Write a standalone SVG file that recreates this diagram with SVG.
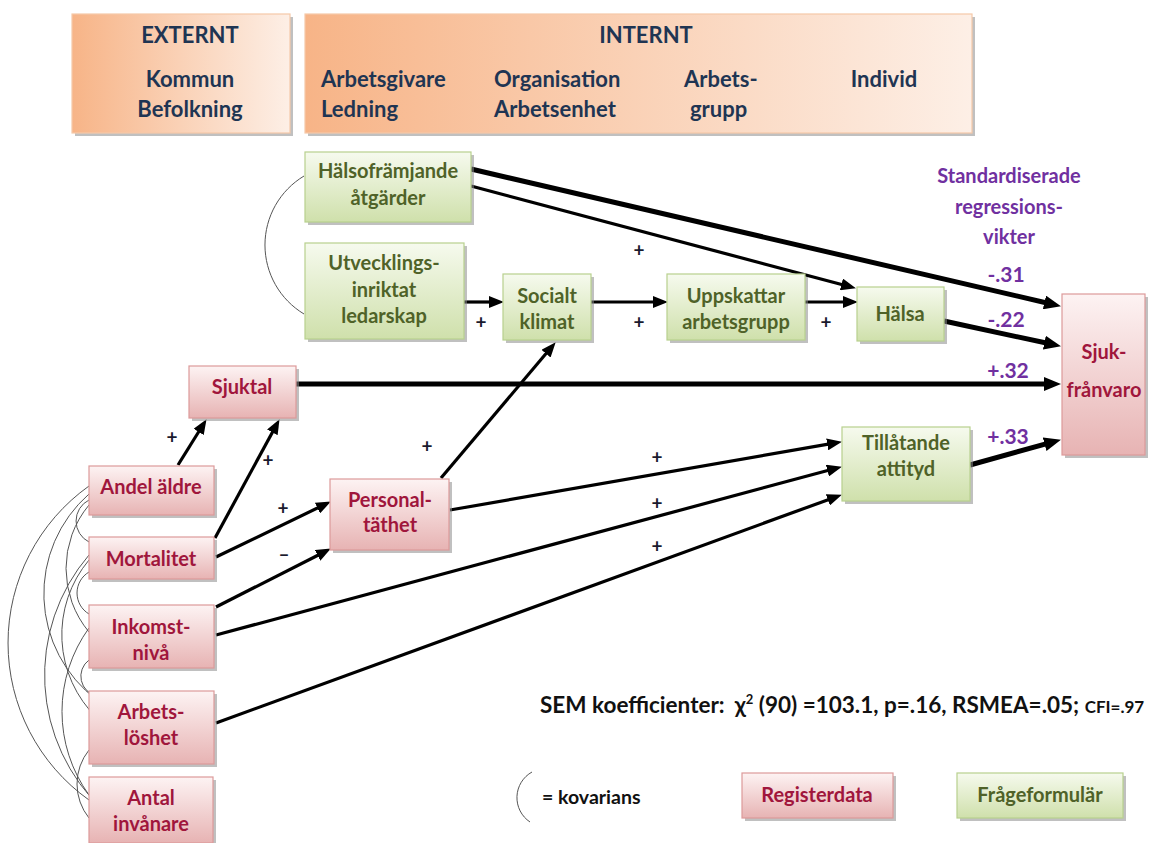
<svg xmlns="http://www.w3.org/2000/svg" width="1161" height="843" viewBox="0 0 1161 843">
<defs>
<linearGradient id="gHead" x1="0" y1="0" x2="1" y2="0"><stop offset="0" stop-color="#f7b487"/><stop offset="1" stop-color="#fdefe6"/></linearGradient>
<linearGradient id="gGreen" x1="0" y1="0" x2="0" y2="1"><stop offset="0" stop-color="#f6faee"/><stop offset="1" stop-color="#cfe0ab"/></linearGradient>
<linearGradient id="gRed" x1="0" y1="0" x2="0" y2="1"><stop offset="0" stop-color="#fdf3f3"/><stop offset="1" stop-color="#e7b3b3"/></linearGradient>
<marker id="ahT" markerUnits="userSpaceOnUse" markerWidth="17" markerHeight="14" refX="8" refY="7" orient="auto"><path d="M0,0 L17,7 L0,14 z" fill="#000"/></marker>
<marker id="ahM" markerUnits="userSpaceOnUse" markerWidth="15" markerHeight="12" refX="7" refY="6" orient="auto"><path d="M0,0 L15,6 L0,12 z" fill="#000"/></marker>
</defs>
<style>
text{font-family:Lato,"Liberation Sans",sans-serif;font-weight:bold;text-anchor:middle}
.hd{font-size:22px;fill:#1f3553}
.hdl{text-anchor:start}
.gt{font-size:20px;fill:#4f6228}
.rt{font-size:20px;fill:#a0163c}
.pu{font-size:20px;fill:#7030a0}
.pn{font-size:21px;fill:#7030a0}
.pl{font-size:19px;fill:#1a1a2e}
.sh{fill:#8c8c8c;opacity:0.55}
.gn{fill:url(#gGreen);stroke:#b8d08e;stroke-width:1.2}
.rn{fill:url(#gRed);stroke:#dc9a9a;stroke-width:1.2}
.hb{fill:url(#gHead);stroke:#f6c9a8;stroke-width:1.2}
.cov{fill:none;stroke:#555;stroke-width:1}
.a5{fill:none;stroke:#000;stroke-width:5;marker-end:url(#ahT)}
.a3{fill:none;stroke:#000;stroke-width:3.2;marker-end:url(#ahM)}
</style>

<g id="header-externt">
<rect class="sh" x="75" y="17" width="218" height="119"/>
<rect class="hb" x="72" y="14" width="218" height="119"/>
<text class="hd" x="190" y="43">EXTERNT</text>
<text class="hd" x="190" y="87">Kommun</text>
<text class="hd" x="190" y="117">Befolkning</text>
</g>
<g id="header-internt">
<rect class="sh" x="308" y="17" width="667" height="119"/>
<rect class="hb" x="305" y="14" width="667" height="119"/>
<text class="hd" x="646" y="43">INTERNT</text>
<text class="hd hdl" x="321" y="87">Arbetsgivare</text>
<text class="hd hdl" x="321" y="117">Ledning</text>
<text class="hd hdl" x="494" y="87">Organisation</text>
<text class="hd hdl" x="494" y="117">Arbetsenhet</text>
<text class="hd hdl" x="684" y="87">Arbets-</text>
<text class="hd hdl" x="690" y="117">grupp</text>
<text class="hd" x="884" y="87">Individ</text>
</g>

<g id="connectors">
<path class="cov" d="M304,176 A80.5,80.5 0 0 0 304,314"/>
<path class="cov" d="M89,486 A192.7,192.7 0 0 0 89,800"/>
<path class="cov" d="M89,494 A132.8,132.8 0 0 0 97,700"/>
<path class="cov" d="M89,505 A99.2,99.2 0 0 0 89,632"/>
<path class="cov" d="M89,500 A23.5,23.5 0 0 0 89,542"/>
<path class="cov" d="M89,555 A184.9,184.9 0 0 0 103,810"/>
<path class="cov" d="M89,560 A116.2,116.2 0 0 0 97,718"/>
<path class="cov" d="M89,572 A24.4,24.4 0 0 0 89,614"/>
<path class="cov" d="M89,628 A142.6,142.6 0 0 0 89,795"/>
<path class="cov" d="M89,660 A20.2,20.2 0 0 0 97,696"/>
<path class="cov" d="M89,750 A54.2,54.2 0 0 0 89,818"/>

<path class="a5" d="M471,169 L1052.2,304.2"/>
<path class="a3" d="M471,186 L848.2,286.2"/>
<path class="a3" d="M464,302 L496,302"/>
<path class="a3" d="M591,302 L660,302"/>
<path class="a3" d="M805,302 L850,302"/>
<path class="a5" d="M944,321 L1052.2,344.3"/>
<path class="a5" d="M296,384 L1052,384"/>
<path class="a5" d="M970,465 L1052.3,442.1"/>
<path class="a3" d="M441,478 L550.5,348.3"/>
<path class="a3" d="M178,465 L202.3,426"/>
<path class="a3" d="M215,538 L275.7,426.2"/>
<path class="a3" d="M216,557 L323.7,505"/>
<path class="a3" d="M216,607 L323.8,552.2"/>
<path class="a3" d="M450,510 L834.1,443.2"/>
<path class="a3" d="M216,635 L834.2,468.8"/>
<path class="a3" d="M216,723 L834.4,497.4"/>

<text class="pl" x="639" y="257">+</text>
<text class="pl" x="481" y="329">+</text>
<text class="pl" x="639" y="329">+</text>
<text class="pl" x="826" y="329">+</text>
<text class="pl" x="172" y="444">+</text>
<text class="pl" x="268" y="467">+</text>
<text class="pl" x="427" y="453">+</text>
<text class="pl" x="283" y="515">+</text>
<text class="pl" x="284" y="561">–</text>
<text class="pl" x="657" y="464">+</text>
<text class="pl" x="657" y="510">+</text>
<text class="pl" x="657" y="553">+</text>

<text class="pn" x="1006" y="282">-.31</text>
<text class="pn" x="1006" y="327">-.22</text>
<text class="pn" x="1008" y="378">+.32</text>
<text class="pn" x="1008" y="444">+.33</text>
</g>

<g id="label-standardiserade">
<text class="pu" x="1009" y="183">Standardiserade</text>
<text class="pu" x="1009" y="214">regressions-</text>
<text class="pu" x="1009" y="244">vikter</text>
</g>

<g id="node-halsoframjande">
<rect class="sh" x="308" y="155" width="166" height="70"/>
<rect class="gn" x="305" y="152" width="166" height="70"/>
<text class="gt" x="388" y="178">Hälsofrämjande</text>
<text class="gt" x="388" y="205">åtgärder</text>
</g>
<g id="node-utvecklings">
<rect class="sh" x="308" y="246" width="159" height="96"/>
<rect class="gn" x="305" y="243" width="159" height="96"/>
<text class="gt" x="384" y="270">Utvecklings-</text>
<text class="gt" x="384" y="297">inriktat</text>
<text class="gt" x="384" y="323">ledarskap</text>
</g>
<g id="node-socialt">
<rect class="sh" x="506" y="277" width="88" height="66"/>
<rect class="gn" x="503" y="274" width="88" height="66"/>
<text class="gt" x="547" y="303">Socialt</text>
<text class="gt" x="547" y="329">klimat</text>
</g>
<g id="node-uppskattar">
<rect class="sh" x="670" y="277" width="138" height="66"/>
<rect class="gn" x="667" y="274" width="138" height="66"/>
<text class="gt" x="736" y="303">Uppskattar</text>
<text class="gt" x="736" y="329">arbetsgrupp</text>
</g>
<g id="node-halsa">
<rect class="sh" x="860" y="290" width="87" height="54"/>
<rect class="gn" x="857" y="287" width="87" height="54"/>
<text class="gt" x="900" y="321">Hälsa</text>
</g>
<g id="node-tillatande">
<rect class="sh" x="845" y="430" width="128" height="74"/>
<rect class="gn" x="842" y="427" width="128" height="74"/>
<text class="gt" x="906" y="450">Tillåtande</text>
<text class="gt" x="906" y="476">attityd</text>
</g>
<g id="node-sjukfranvaro">
<rect class="sh" x="1065" y="297" width="83" height="161"/>
<rect class="rn" x="1062" y="294" width="83" height="161"/>
<text class="rt" x="1104" y="359">Sjuk-</text>
<text class="rt" x="1104" y="397">frånvaro</text>
</g>
<g id="node-sjuktal">
<rect class="sh" x="192" y="369" width="107" height="52"/>
<rect class="rn" x="189" y="366" width="107" height="52"/>
<text class="rt" x="242" y="394">Sjuktal</text>
</g>
<g id="node-andel-aldre">
<rect class="sh" x="92" y="469" width="125" height="49"/>
<rect class="rn" x="89" y="466" width="125" height="49"/>
<text class="rt" x="151" y="494">Andel äldre</text>
</g>
<g id="node-mortalitet">
<rect class="sh" x="92" y="540" width="125" height="42"/>
<rect class="rn" x="89" y="537" width="125" height="42"/>
<text class="rt" x="151" y="566">Mortalitet</text>
</g>
<g id="node-inkomst">
<rect class="sh" x="92" y="608" width="125" height="63"/>
<rect class="rn" x="89" y="605" width="125" height="63"/>
<text class="rt" x="151" y="634">Inkomst-</text>
<text class="rt" x="151" y="660">nivå</text>
</g>
<g id="node-arbetsloshet">
<rect class="sh" x="92" y="694" width="125" height="73"/>
<rect class="rn" x="89" y="691" width="125" height="73"/>
<text class="rt" x="151" y="719">Arbets-</text>
<text class="rt" x="151" y="745">löshet</text>
</g>
<g id="node-antal">
<rect class="sh" x="92" y="780" width="124" height="66"/>
<rect class="rn" x="89" y="777" width="124" height="66"/>
<text class="rt" x="151" y="805">Antal</text>
<text class="rt" x="151" y="831">invånare</text>
</g>
<g id="node-personaltathet">
<rect class="sh" x="333" y="482" width="119" height="71"/>
<rect class="rn" x="330" y="479" width="119" height="71"/>
<text class="rt" x="390" y="507">Personal-</text>
<text class="rt" x="390" y="532">täthet</text>
</g>

<g id="sem-text">
<text x="540" y="713" style="text-anchor:start;font-size:22.5px;fill:#111">SEM koefficienter:<tspan dx="10">χ</tspan><tspan dy="-9" font-size="13">2</tspan><tspan dy="9"> (90) =103.1, p=.16, RSMEA=.05; </tspan><tspan font-size="17">CFI=.97</tspan></text>
</g>

<g id="legend">
<path class="cov" d="M532,772 A29.3,29.3 0 0 0 530,822"/>
<text x="542" y="804" style="text-anchor:start;font-size:19.5px;fill:#111">= kovarians</text>
<rect class="sh" x="745" y="776" width="151" height="45"/>
<rect class="rn" x="742" y="773" width="151" height="45"/>
<text class="rt" x="817" y="802">Registerdata</text>
<rect class="sh" x="960" y="776" width="166" height="45"/>
<rect class="gn" x="957" y="773" width="166" height="45"/>
<text class="gt" x="1040" y="802">Frågeformulär</text>
</g>
</svg>
